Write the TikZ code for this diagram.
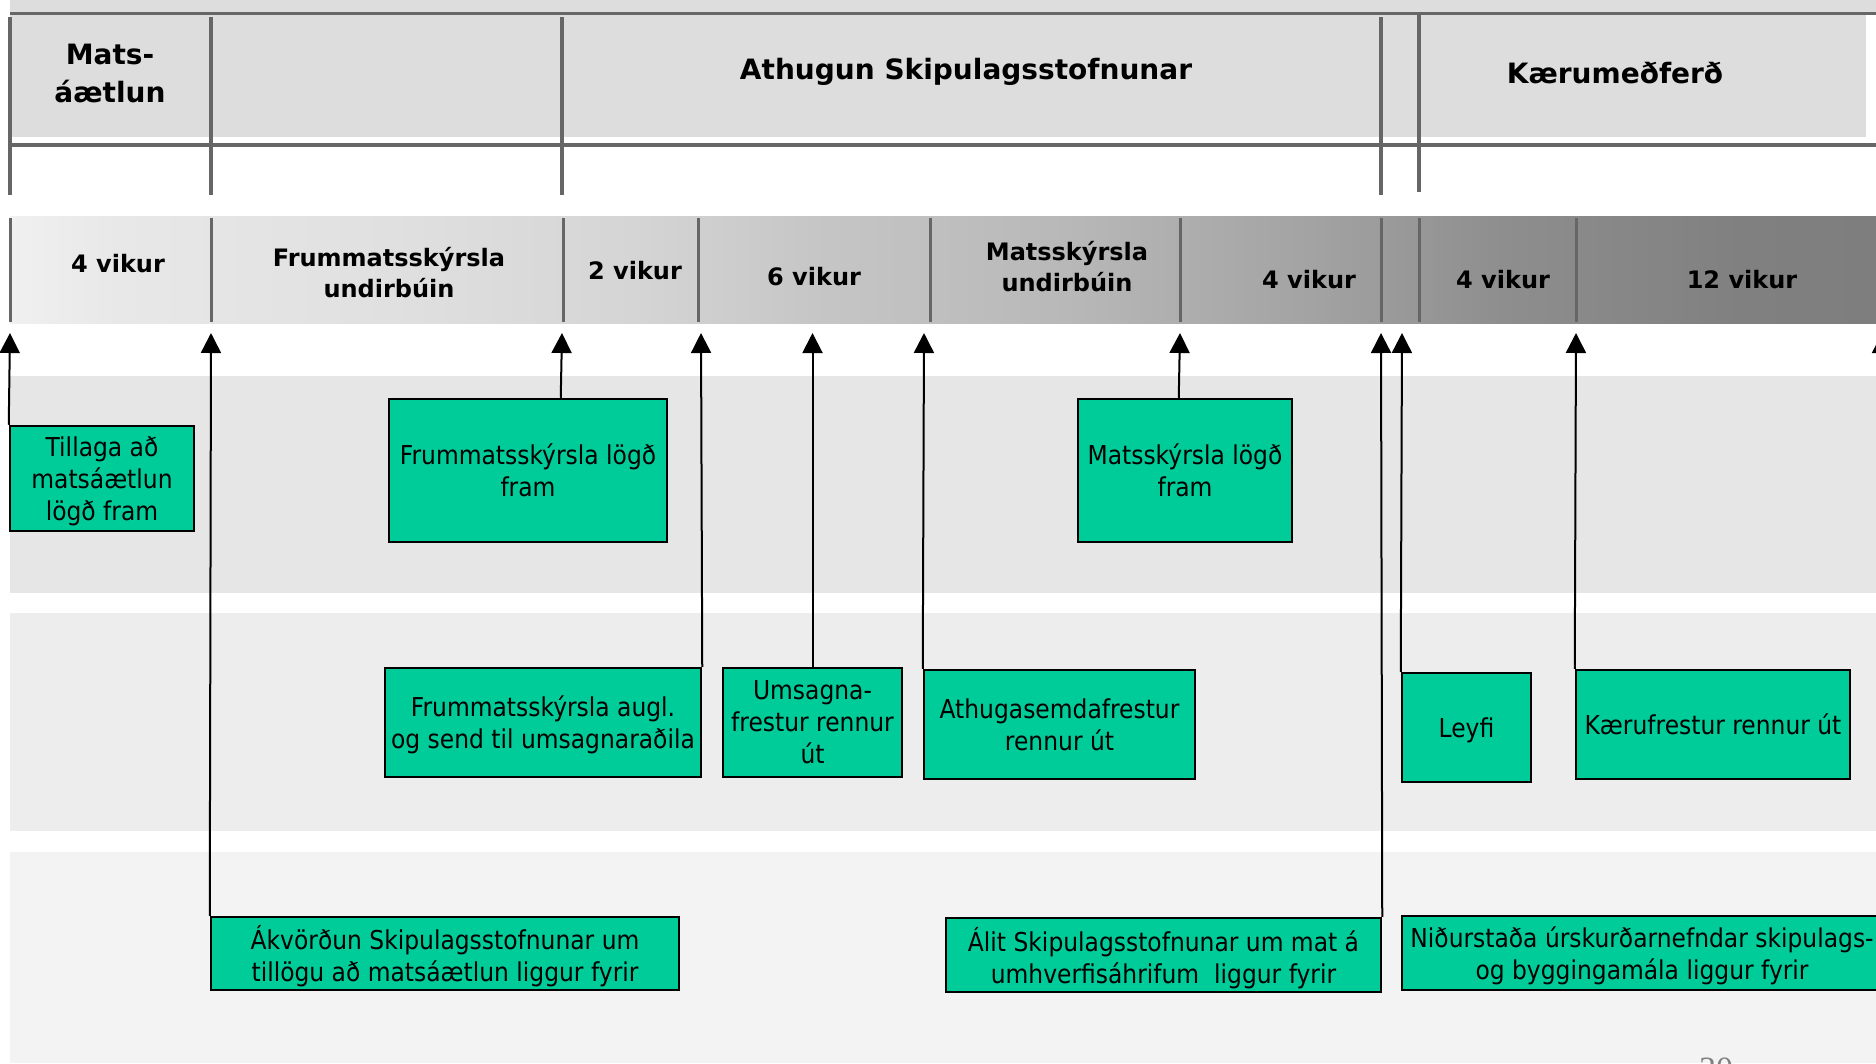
\documentclass[tikz,border=0pt]{standalone}
\usepackage{fontspec}
\setmainfont{DejaVu Sans}
\newfontfamily\boxfont{DejaVu Sans}[FakeStretch=0.9]
\newfontfamily\pnfont{Liberation Serif}
\usetikzlibrary{arrows.meta}
\definecolor{evgreen}{RGB}{0,204,153}
\definecolor{hdrgray}{RGB}{102,102,102}
\definecolor{hdrfill}{RGB}{221,221,221}
\definecolor{bandA}{RGB}{230,230,230}
\definecolor{bandB}{RGB}{237,237,237}
\definecolor{bandC}{RGB}{243,243,243}
\definecolor{tlA}{RGB}{240,240,240}
\definecolor{tlB}{RGB}{232,232,232}
\definecolor{tlC}{RGB}{224,224,224}
\definecolor{tlD}{RGB}{213,213,213}
\definecolor{tlE}{RGB}{198,198,198}
\definecolor{tlF}{RGB}{184,184,184}
\definecolor{tlG}{RGB}{163,163,163}
\definecolor{tlH}{RGB}{142,142,142}
\definecolor{tlI}{RGB}{128,128,128}
\definecolor{tlJ}{RGB}{126,126,126}
\pgfdeclarehorizontalshading{timeline}{100bp}{color(0bp)=(tlA); color(25bp)=(tlA); color(27.9bp)=(tlB); color(35.2bp)=(tlC); color(41.7bp)=(tlD); color(46.5bp)=(tlE); color(53.3bp)=(tlF); color(59.8bp)=(tlG); color(65bp)=(tlH); color(71.4bp)=(tlI); color(75bp)=(tlJ); color(100bp)=(tlJ)}
\tikzset{
  hdrline/.style={line width=3.5pt, draw=hdrgray},
  divline/.style={line width=3pt, draw=hdrgray},
  ev/.style={draw=black, line width=2.5pt, fill=evgreen, inner sep=0pt, align=center,
    text depth=0pt, font=\boxfont\fontsize{26}{32}\selectfont},
  arr/.style={line width=2pt, draw=black, -{Triangle[length=20pt,width=20pt]}},
  phase/.style={font=\bfseries\fontsize{28}{38}\selectfont, align=center},
  dur/.style={font=\bfseries\fontsize{24}{31}\selectfont, align=center},
}
\begin{document}
\begin{tikzpicture}[x=1pt,y=-1pt]
\fill[white] (0,0) rectangle (1876,1063);
\useasboundingbox (0,0) rectangle (1876,1063);
% bands
\fill[bandA] (10,376) rectangle (1876,593);
\fill[bandB] (10,613) rectangle (1876,831);
\fill[bandC] (10,852) rectangle (1876,1063);
% header
\fill[hdrfill] (10,0) rectangle (1876,13);
\fill[hdrfill] (10,13) rectangle (1866,137);
\draw[hdrline] (10,13.5) -- (1876,13.5);
\draw[hdrline] (10,145) -- (1876,145);
\foreach \xx in {10,211,562,1381} \draw[hdrline] (\xx,17) -- (\xx,195);
\draw[hdrline] (1419,13) -- (1419,192);
\node[phase] (hmat) at (110,73) {Mats-\\áætlun};
\node[phase] (hath) at (966,72) {Athugun Skipulagsstofnunar};
\node[phase] (hkae) at (1615,73) {Kærumeðferð};
% timeline
\shade[shading=timeline] (10,216) rectangle (1876,323);
\foreach \xx in {10,211,563,698,930,1180,1381,1419,1576} \draw[divline] (\xx,218) -- (\xx,322);
\node[dur] (d1) at (118,264) {4 vikur};
\node[dur] (d2) at (389,273) {Frummatsskýrsla\\undirbúin};
\node[dur] (d3) at (635,271) {2 vikur};
\node[dur] (d4) at (814,277) {6 vikur};
\node[dur] (d5) at (1067,267) {Matsskýrsla\\undirbúin};
\node[dur] (d6) at (1309,280) {4 vikur};
\node[dur] (d7) at (1503,280) {4 vikur};
\node[dur] (d8) at (1742,280) {12 vikur};
% arrow end points on the timeline
\coordinate (e1) at (10,333);
\coordinate (e2) at (211,333);
\coordinate (e3) at (562,333);
\coordinate (e4) at (701,333);
\coordinate (e5) at (812.5,333);
\coordinate (e6) at (924,333);
\coordinate (e7) at (1180,333);
\coordinate (e8) at (1381,333);
\coordinate (e9) at (1402,333);
\coordinate (e10) at (1576,333);
\coordinate (e11) at (1882,333);
% event boxes
\node[ev, minimum width=184pt, minimum height=105pt] (tillaga) at (102,478.5) {Tillaga að\\matsáætlun\\lögð fram};
\node[ev, minimum width=278pt, minimum height=143pt] (fl) at (528,470.5) {Frummatsskýrsla lögð\\fram};
\node[ev, minimum width=214pt, minimum height=143pt] (ml) at (1185,470.5) {Matsskýrsla lögð\\fram};
\node[ev, minimum width=316pt, minimum height=109pt] (fa) at (543,722.5) {Frummatsskýrsla augl.\\og send til umsagnaraðila};
\node[ev, minimum width=179pt, minimum height=109pt] (um) at (812.5,722.5) {Umsagna-\\frestur rennur\\út};
\node[ev, minimum width=271pt, minimum height=109pt] (ath) at (1059.5,724.5) {Athugasemdafrestur\\rennur út};
\node[ev, minimum width=129pt, minimum height=109pt] (leyfi) at (1466.5,727.5) {Leyfi};
\node[ev, minimum width=274pt, minimum height=109pt] (kf) at (1713,724.5) {Kærufrestur rennur út};
\node[ev, minimum width=468pt, minimum height=73pt] (akv) at (445,953.5) {Ákvörðun Skipulagsstofnunar um\\tillögu að matsáætlun liggur fyrir};
\node[ev, minimum width=435pt, minimum height=74pt] (alit) at (1163.5,955) {Álit Skipulagsstofnunar um mat á\\umhverfisáhrifum\ \ liggur fyrir};
\node[ev, minimum width=480pt, minimum height=74pt] (nid) at (1642,953) {Niðurstaða úrskurðarnefndar skipulags-\\og byggingamála liggur fyrir};
% arrows
\draw[arr] (tillaga.north west) -- (e1);
\draw[arr] (akv.north west) -- (e2);
\draw[arr] ([xshift=173pt]fl.north west) -- (e3);
\draw[arr] (fa.north east) -- (e4);
\draw[arr] (um.north) -- (e5);
\draw[arr] (ath.north west) -- (e6);
\draw[arr] ([xshift=102pt]ml.north west) -- (e7);
\draw[arr] (alit.north east) -- (e8);
\draw[arr] (leyfi.north west) -- (e9);
\draw[arr] (kf.north west) -- (e10);
\draw[arr] (nid.north east) -- (e11);
% page number
\node[font=\pnfont\fontsize{34}{40}\selectfont, text=gray, anchor=north, inner sep=0pt] (pn) at (1716,1058) {30};
\end{tikzpicture}
\end{document}
